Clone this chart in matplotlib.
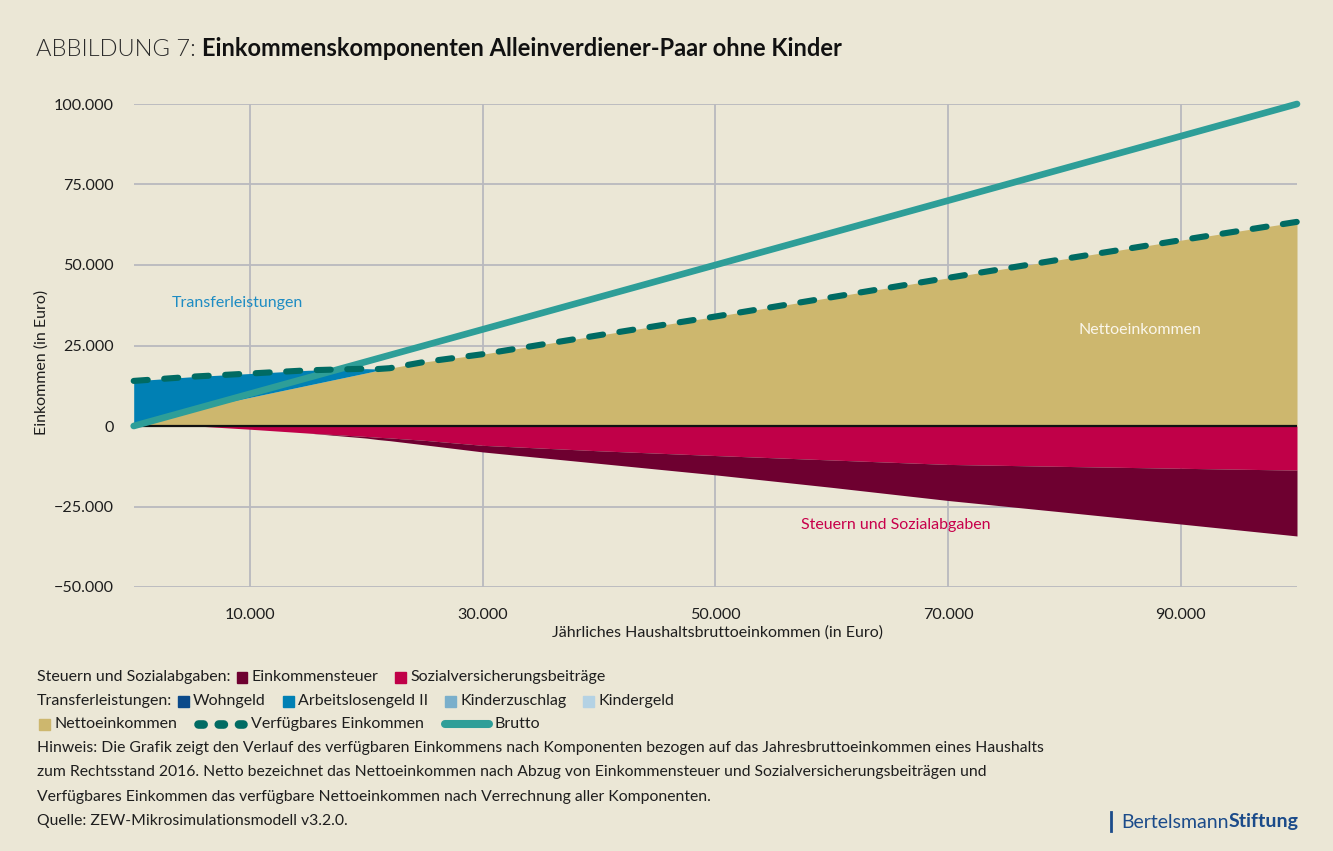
import matplotlib
matplotlib.use("Agg")
import matplotlib.pyplot as plt
from matplotlib.patches import Rectangle
from matplotlib.lines import Line2D
import numpy as np

plt.rcParams['font.family'] = ['Lato', 'DejaVu Sans']

# ---------------- data ----------------
brutto_x = [0, 100000]
brutto_y = [0, 100000]

x_grid = [0, 5400, 10000, 15000, 20000, 21000, 22000, 25000, 30000, 40000,
          50000, 60000, 70000, 80000, 90000, 100000]
netto = [0, 5400, 8900, 12700, 16500, 17300, 17950, 19900, 22300, 28200,
         34000, 40000, 46000, 51900, 57700, 63400]
alg2 = [14000, 10000, 7400, 4600, 1300, 400, 0, 0, 0, 0,
        0, 0, 0, 0, 0, 0]
verfuegbar = [14000, 15400, 16300, 17300, 17800, 17700, 17950, 19900, 22300, 28200,
              34000, 40000, 46000, 51900, 57700, 63400]
sozialvers = [0, 0, 1000, 2200, 3250, 3500, 3700, 4450, 6000, 7700,
              9170, 10550, 11930, 12550, 13130, 13700]
einkommensteuer = [0, 0, 0, 0, 500, 700, 850, 1400, 2050, 3900,
                   6000, 8500, 11200, 14200, 17300, 20450]

y_ticks = [-50000, -25000, 0, 25000, 50000, 75000, 100000]
x_ticks = [10000, 30000, 50000, 70000, 90000]

title_prefix = "ABBILDUNG 7: "
title_main = "Einkommenskomponenten Alleinverdiener-Paar ohne Kinder"
xlabel = "Jährliches Haushaltsbruttoeinkommen (in Euro)"
ylabel = "Einkommen (in Euro)"
notes = [
    "Hinweis: Die Grafik zeigt den Verlauf des verfügbaren Einkommens nach Komponenten bezogen auf das Jahresbruttoeinkommen eines Haushalts",
    "zum Rechtsstand 2016. Netto bezeichnet das Nettoeinkommen nach Abzug von Einkommensteuer und Sozialversicherungsbeiträgen und",
    "Verfügbares Einkommen das verfügbare Nettoeinkommen nach Verrechnung aller Komponenten.",
    "Quelle: ZEW-Mikrosimulationsmodell v3.2.0.",
]

# ---------------- colours ----------------
BG = "#EBE7D6"
C_TAN = "#CDB76E"
C_ALG = "#0080B4"
C_WOHN = "#0B4A8A"
C_KIZ = "#7AAFCB"
C_KG = "#B4D2E4"
C_SOZ = "#C00048"
C_EST = "#6E0030"
C_VERF = "#006B63"
C_BRUT = "#2E9E98"
C_GRID = "#B9B9BE"
C_TEXT = "#1E1E1E"

W, H = 1333, 851
fig = plt.figure(figsize=(W / 100, H / 100), dpi=100, facecolor=BG)


def fx(px):
    return px / W


def fy(py):
    return 1 - py / H


ax = fig.add_axes([fx(133.7), fy(587), fx(1297) - fx(133.7), fy(104) - fy(587)])
ax.set_facecolor(BG)
ax.set_xlim(0, 100000)
ax.set_ylim(-50000, 100000)
for s in ax.spines.values():
    s.set_visible(False)

ax.set_yticks(y_ticks)
ax.set_xticks(x_ticks)


def fmt(v):
    s = f"{abs(int(v)):,}".replace(",", ".")
    return ("\u2212" + s) if v < 0 else s


ax.set_yticklabels([fmt(v) for v in y_ticks])
ax.set_xticklabels([fmt(v) for v in x_ticks])
ax.tick_params(axis='both', length=0, labelsize=11.6, colors=C_TEXT)
ax.tick_params(axis='y', pad=14.4)
ax.tick_params(axis='x', pad=14.8)
ax.grid(True, color=C_GRID, lw=1.3)
ax.set_axisbelow(True)

xg = np.array(x_grid, dtype=float)
net = np.array(netto, dtype=float)
alg = np.array(alg2, dtype=float)
soz = np.array(sozialvers, dtype=float)
est = np.array(einkommensteuer, dtype=float)

ax.fill_between(xg, 0, net, color=C_TAN, lw=0, zorder=2)
ax.fill_between(xg, net, net + alg, color=C_ALG, lw=0, zorder=2)
ax.fill_between(xg, 0, -soz, color=C_SOZ, lw=0, zorder=2)
ax.fill_between(xg, -soz, -soz - est, color=C_EST, lw=0, zorder=2)

ax.axhline(0, color="#111111", lw=1.6, zorder=3)

ax.plot(brutto_x, brutto_y, color=C_BRUT, lw=4.8, solid_capstyle='round',
        zorder=4, clip_on=False)
ax.plot(xg, verfuegbar, color=C_VERF, lw=4.4, dashes=(2.3, 2.7),
        dash_capstyle='round', zorder=5, clip_on=False)

ANN = 11.5
ax.text(3300, 38200, "Transferleistungen", color="#1E8CC3", fontsize=ANN,
        va='center', ha='left')
ax.text(81200, 29800, "Nettoeinkommen", color="#FAF6EA", fontsize=ANN,
        va='center', ha='left')
ax.text(57400, -30700, "Steuern und Sozialabgaben", color="#C8004B",
        fontsize=ANN, va='center', ha='left')

# axis labels
fig.text(fx(718), fy(633), xlabel, ha='center', va='center', fontsize=11.5,
         color=C_TEXT)
fig.text(fx(42), fy(362), ylabel, ha='center', va='center', fontsize=11.5,
         rotation=90, color=C_TEXT)

# title
renderer = fig.canvas.get_renderer()
t1 = fig.text(fx(36), fy(49), title_prefix, fontsize=17, fontweight=300,
              color="#2A2A2A", va='center', ha='left')
bb = t1.get_window_extent(renderer)
fig.text(fx(36) + bb.width / W, fy(49), title_main, fontsize=17,
         fontweight='bold', color="#111111", va='center', ha='left')

# ---------------- legend rows ----------------
FS = 11.5


def put_text(x, y, s, **kw):
    t = fig.text(x, y, s, fontsize=FS, color=C_TEXT, va='center', ha='left', **kw)
    return x + t.get_window_extent(renderer).width / W


def put_square(x, y, color):
    w, h = 10.5 / W, 11 / H
    fig.patches.append(Rectangle((x, y - h / 2), w, h, color=color,
                                 transform=fig.transFigure, figure=fig))
    return x + w + 4.5 / W


def row(px0, py, items):
    x = fx(px0)
    y = fy(py)
    for kind, lab, col in items:
        if kind == 'head':
            x = put_text(x, y, lab) + 6 / W
        elif kind == 'sq':
            x = put_square(x, y, col)
            x = put_text(x, y, lab) + 17 / W
        elif kind == 'dash':
            ln = Line2D([x + 4.3 / W, x + 48.7 / W], [y, y], transform=fig.transFigure,
                        color=col, lw=6.2, dashes=(0.6, 1.75), dash_capstyle='round')
            fig.lines.append(ln)
            x = put_text(x + 57 / W, y, lab) + 17 / W
        elif kind == 'line':
            ln = Line2D([x + 4 / W, x + 48 / W], [y, y], transform=fig.transFigure,
                        color=col, lw=5.8, solid_capstyle='round')
            fig.lines.append(ln)
            x = put_text(x + 54 / W, y, lab) + 17 / W


row(37, 677, [('head', "Steuern und Sozialabgaben:", None),
              ('sq', "Einkommensteuer", C_EST),
              ('sq', "Sozialversicherungsbeiträge", C_SOZ)])
row(37, 701, [('head', "Transferleistungen:", None),
              ('sq', "Wohngeld", C_WOHN),
              ('sq', "Arbeitslosengeld II", C_ALG),
              ('sq', "Kinderzuschlag", C_KIZ),
              ('sq', "Kindergeld", C_KG)])
row(39, 724, [('sq', "Nettoeinkommen", C_TAN),
              ('dash', "Verfügbares Einkommen", C_VERF),
              ('line', "Brutto", C_BRUT)])

for i, line in enumerate(notes):
    fig.text(fx(37), fy(748 + 24.3 * i), line, fontsize=11.35, color=C_TEXT,
             va='center', ha='left')

# logo
LOGO = "#1B4B8A"
fig.lines.append(Line2D([fx(1111), fx(1111)], [fy(812), fy(831)],
                        transform=fig.transFigure, color=LOGO, lw=2))
tb = fig.text(fx(1121), fy(822), "Bertelsmann", fontsize=14, color=LOGO,
              va='center', ha='left')
bw = tb.get_window_extent(renderer).width / W
fig.text(fx(1121) + bw, fy(822), "Stiftung", fontsize=14, color=LOGO,
         fontweight='bold', va='center', ha='left')

fig.savefig("out.png", dpi=100, facecolor=BG)
